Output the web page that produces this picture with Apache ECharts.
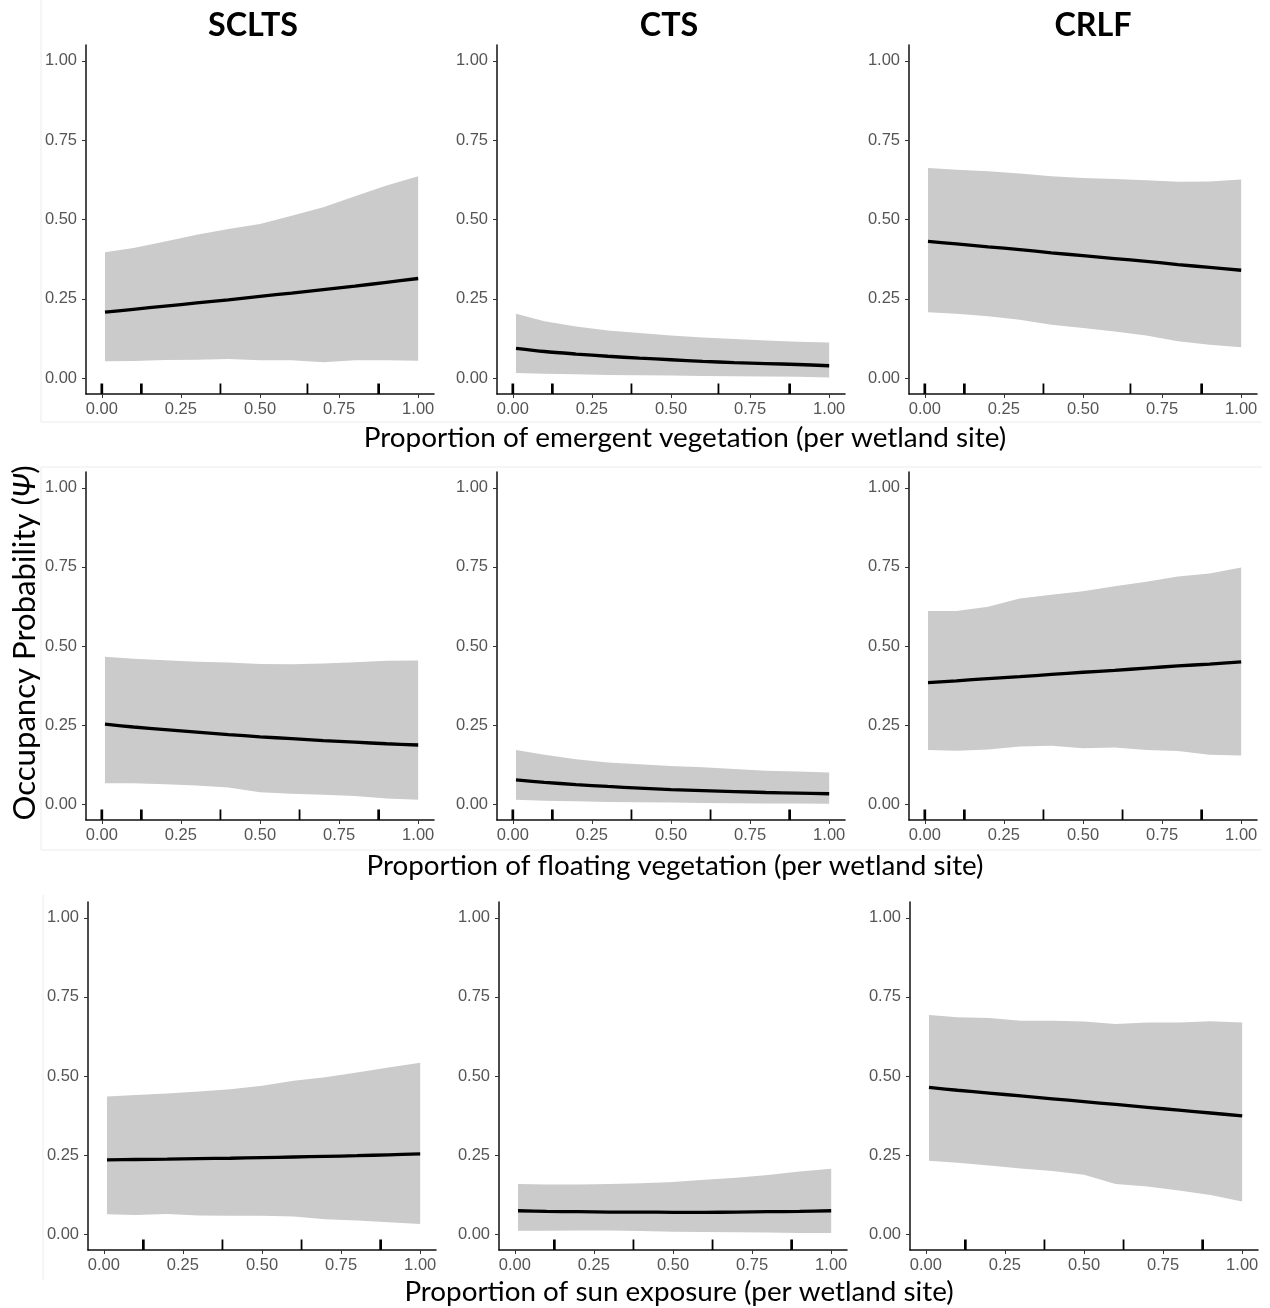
<!DOCTYPE html>
<html><head><meta charset="utf-8">
<script src="https://cdn.jsdelivr.net/npm/echarts@6.0.0/dist/echarts.min.js"></script>
<style>html,body{margin:0;padding:0;background:#fff}#c{width:1270px;height:1308px}</style>
</head><body><div id="c"></div>
<script>
// ---------- DATA ----------
const xs = [0.01, 0.1, 0.2, 0.3, 0.4, 0.5, 0.6, 0.7, 0.8, 0.9, 1.0];
const species = ['SCLTS', 'CTS', 'CRLF'];
const covariateTitles = [
  'Proportion of emergent vegetation (per wetland site)',
  'Proportion of floating vegetation (per wetland site)',
  'Proportion of sun exposure (per wetland site)'
];
const yTitle = 'Occupancy Probability';
const yTitleSymbol = 'Ψ';
const yTicks = [0, 0.25, 0.5, 0.75, 1];
const xTicks = [0, 0.25, 0.5, 0.75, 1];

// Emergent vegetation
const emergentSCLTSMean = [0.208,0.217,0.227,0.237,0.247,0.258,0.268,0.279,0.29,0.302,0.314];
const emergentSCLTSLow  = [0.053,0.054,0.057,0.058,0.06,0.056,0.056,0.05,0.056,0.056,0.055];
const emergentSCLTSHigh = [0.397,0.41,0.431,0.452,0.47,0.486,0.512,0.539,0.573,0.607,0.636];
const emergentCTSMean = [0.094,0.084,0.076,0.069,0.063,0.058,0.053,0.049,0.046,0.043,0.039];
const emergentCTSLow  = [0.016,0.014,0.012,0.01,0.009,0.008,0.007,0.006,0.005,0.004,0.002];
const emergentCTSHigh = [0.203,0.179,0.163,0.15,0.142,0.134,0.128,0.123,0.119,0.115,0.112];
const emergentCRLFMean = [0.431,0.423,0.414,0.405,0.395,0.386,0.377,0.368,0.358,0.349,0.34];
const emergentCRLFLow  = [0.208,0.203,0.195,0.184,0.168,0.158,0.147,0.134,0.116,0.105,0.097];
const emergentCRLFHigh = [0.662,0.657,0.652,0.645,0.636,0.631,0.628,0.624,0.619,0.62,0.626];

// Floating vegetation
const floatingSCLTSMean = [0.253,0.244,0.236,0.228,0.22,0.213,0.207,0.201,0.196,0.191,0.187];
const floatingSCLTSLow  = [0.066,0.066,0.063,0.059,0.053,0.038,0.033,0.03,0.026,0.018,0.014];
const floatingSCLTSHigh = [0.466,0.46,0.455,0.45,0.448,0.443,0.442,0.445,0.449,0.453,0.454];
const floatingCTSMean = [0.077,0.069,0.062,0.056,0.051,0.046,0.043,0.04,0.037,0.035,0.033];
const floatingCTSLow  = [0.014,0.011,0.009,0.007,0.006,0.005,0.004,0.003,0.002,0.002,0.001];
const floatingCTSHigh = [0.171,0.156,0.142,0.132,0.126,0.121,0.117,0.111,0.106,0.103,0.1];
const floatingCRLFMean = [0.384,0.39,0.397,0.403,0.41,0.417,0.423,0.43,0.437,0.443,0.45];
const floatingCRLFLow  = [0.171,0.169,0.173,0.182,0.185,0.177,0.179,0.171,0.168,0.156,0.154];
const floatingCRLFHigh = [0.611,0.611,0.624,0.65,0.662,0.673,0.689,0.703,0.72,0.729,0.748];

// Sun exposure
const sunSCLTSMean = [0.235,0.236,0.237,0.239,0.24,0.242,0.244,0.246,0.248,0.251,0.254];
const sunSCLTSLow  = [0.063,0.061,0.064,0.059,0.058,0.058,0.056,0.047,0.043,0.038,0.032];
const sunSCLTSHigh = [0.435,0.44,0.445,0.451,0.458,0.469,0.485,0.496,0.511,0.527,0.542];
const sunCTSMean = [0.074,0.072,0.071,0.07,0.07,0.069,0.069,0.07,0.071,0.072,0.074];
const sunCTSLow  = [0.011,0.011,0.012,0.012,0.01,0.008,0.007,0.006,0.005,0.004,0.004];
const sunCTSHigh = [0.159,0.157,0.157,0.159,0.161,0.165,0.172,0.178,0.187,0.198,0.207];
const sunCRLFMean = [0.464,0.455,0.446,0.437,0.428,0.419,0.41,0.401,0.392,0.383,0.374];
const sunCRLFLow  = [0.232,0.226,0.217,0.208,0.2,0.188,0.159,0.151,0.138,0.124,0.103];
const sunCRLFHigh = [0.693,0.686,0.683,0.675,0.675,0.672,0.664,0.669,0.669,0.673,0.669];

// Rug (observed covariate values and number of sites at each)
const rugEmergentValues = [0, 0.125, 0.375, 0.65, 0.875];
const rugEmergentCounts = [2, 2, 1, 1, 2];
const rugFloatingValues = [0, 0.125, 0.375, 0.625, 0.875];
const rugFloatingCounts = [2, 2, 1, 1, 2];
const rugSunValues = [0.125, 0.375, 0.625, 0.875];
const rugSunCounts = [2, 1, 1, 2];

// ---------- ASSEMBLY ----------
const rowsData = [
  { rugV: rugEmergentValues, rugN: rugEmergentCounts, panels: [
    [emergentSCLTSMean, emergentSCLTSLow, emergentSCLTSHigh],
    [emergentCTSMean, emergentCTSLow, emergentCTSHigh],
    [emergentCRLFMean, emergentCRLFLow, emergentCRLFHigh]] },
  { rugV: rugFloatingValues, rugN: rugFloatingCounts, panels: [
    [floatingSCLTSMean, floatingSCLTSLow, floatingSCLTSHigh],
    [floatingCTSMean, floatingCTSLow, floatingCTSHigh],
    [floatingCRLFMean, floatingCRLFLow, floatingCRLFHigh]] },
  { rugV: rugSunValues, rugN: rugSunCounts, panels: [
    [sunSCLTSMean, sunSCLTSLow, sunSCLTSHigh],
    [sunCTSMean, sunCTSLow, sunCTSHigh],
    [sunCRLFMean, sunCRLFLow, sunCRLFHigh]] }
];

// layout
const rowTop = [45, 472, 902];
const rowH = [349, 348, 348];
const colLeft = [[86, 497, 909], [86, 497, 909], [88, 499, 910]];
const panelW = 348;
const xTitlePos = [[685, 438], [675, 866], [679, 1292]];
const xTitleWidth = [643, 617, 549];
const colTitlePos = [[253, 26], [669, 26], [1093, 26]];

const LABEL_FONT = '"Liberation Sans", Arial, sans-serif';
const TITLE_FONT = 'Lato, "Open Sans", sans-serif';

const mctx = document.createElement('canvas').getContext('2d');
function fitSize(text, weight, family, target) {
  mctx.font = weight + ' 100px ' + family;
  return 100 * target / mctx.measureText(text).width;
}

const grids = [], xAxes = [], yAxes = [], series = [];
let idx = 0;
rowsData.forEach((row, r) => {
  row.panels.forEach((p, c) => {
    const [mean, lo, hi] = p;
    grids.push({ left: colLeft[r][c], top: rowTop[r], width: panelW, height: rowH[r], containLabel: false });
    const axisCommon = {
      type: 'value', min: -0.05, max: 1.05, gridIndex: idx,
      axisLine: { show: true, onZero: false, lineStyle: { color: '#111', width: 1.5 } },
      splitLine: { show: false },
    };
    xAxes.push(Object.assign({}, axisCommon, {
      axisTick: { show: true, length: 4, lineStyle: { color: '#333', width: 1 }, customValues: xTicks },
      axisLabel: { customValues: xTicks, formatter: v => v.toFixed(2), color: '#555',
        fontSize: 16.5, fontFamily: LABEL_FONT, margin: 7 }
    }));
    yAxes.push(Object.assign({}, axisCommon, {
      axisTick: { show: true, length: 4, lineStyle: { color: '#333', width: 1 }, customValues: yTicks },
      axisLabel: { customValues: yTicks, formatter: v => v.toFixed(2), color: '#555',
        fontSize: 16.5, fontFamily: LABEL_FONT, margin: 9 }
    }));
    // confidence band
    series.push({
      type: 'custom', xAxisIndex: idx, yAxisIndex: idx, silent: true, z: 1,
      data: [[0.5, 0.5]],
      renderItem: (params, api) => {
        const pts = [];
        xs.forEach((x, k) => pts.push(api.coord([x, hi[k]])));
        for (let k = xs.length - 1; k >= 0; k--) pts.push(api.coord([xs[k], lo[k]]));
        return { type: 'polygon', shape: { points: pts }, style: { fill: '#cbcbcb' } };
      }
    });
    // mean line
    series.push({
      type: 'line', xAxisIndex: idx, yAxisIndex: idx, silent: true, z: 3,
      data: xs.map((x, k) => [x, mean[k]]),
      symbol: 'none', smooth: 0.3,
      lineStyle: { color: '#000', width: 3.3 }
    });
    // rug
    series.push({
      type: 'custom', xAxisIndex: idx, yAxisIndex: idx, silent: true, z: 4,
      data: row.rugV.map((v, k) => [v, row.rugN[k]]),
      renderItem: (params, api) => {
        const p0 = api.coord([api.value(0), -0.05]);
        return { type: 'line', shape: { x1: p0[0], y1: p0[1], x2: p0[0], y2: p0[1] - 10.5 },
          style: { stroke: '#000', lineWidth: 0.9 + 0.9 * api.value(1) } };
      }
    });
    idx++;
  });
});

// text graphics
const graphics = [];
// faint composite-frame lines
const faint = '#ececec';
[[41, 0, 41, 422], [41, 422, 1262, 422], [41, 467, 1262, 467], [41, 467, 41, 850], [41, 850, 1262, 850], [43, 895, 43, 1280]]
  .forEach(s => graphics.push({ type: 'line', shape: { x1: s[0], y1: s[1], x2: s[2], y2: s[3] }, style: { stroke: faint, lineWidth: 1 }, z: 0 }));

const titleSize = fitSize(species[0], 'bold', TITLE_FONT, 90);
species.forEach((s, c) => graphics.push({
  type: 'text', x: colTitlePos[c][0], y: colTitlePos[c][1],
  style: { text: s, font: 'bold ' + titleSize.toFixed(1) + 'px ' + TITLE_FONT, fill: '#000', textAlign: 'center', textVerticalAlign: 'middle' }
}));
covariateTitles.forEach((t, r) => {
  const fs = fitSize(t, 'normal', TITLE_FONT, xTitleWidth[r]);
  graphics.push({
    type: 'text', x: xTitlePos[r][0], y: xTitlePos[r][1],
    style: { text: t, font: fs.toFixed(1) + 'px ' + TITLE_FONT, fill: '#000', textAlign: 'center', textVerticalAlign: 'middle' }
  });
});
const yFs = fitSize(yTitle + ' (' + yTitleSymbol + ')', 'normal', TITLE_FONT, 357);
graphics.push({
  type: 'text', x: 25, y: 643, rotation: Math.PI / 2,
  style: {
    text: '{a|' + yTitle + ' (}{b|' + yTitleSymbol + '}{a|)}',
    textAlign: 'center', textVerticalAlign: 'middle',
    rich: {
      a: { fontFamily: TITLE_FONT, fontSize: yFs, fill: '#000' },
      b: { fontFamily: TITLE_FONT, fontSize: yFs, fontStyle: 'italic', fill: '#000' }
    }
  }
});

const chart = echarts.init(document.getElementById('c'), null, { renderer: 'canvas' });
chart.setOption({
  animation: false,
  backgroundColor: '#fff',
  grid: grids, xAxis: xAxes, yAxis: yAxes, series: series,
  graphic: graphics
});
</script></body></html>
